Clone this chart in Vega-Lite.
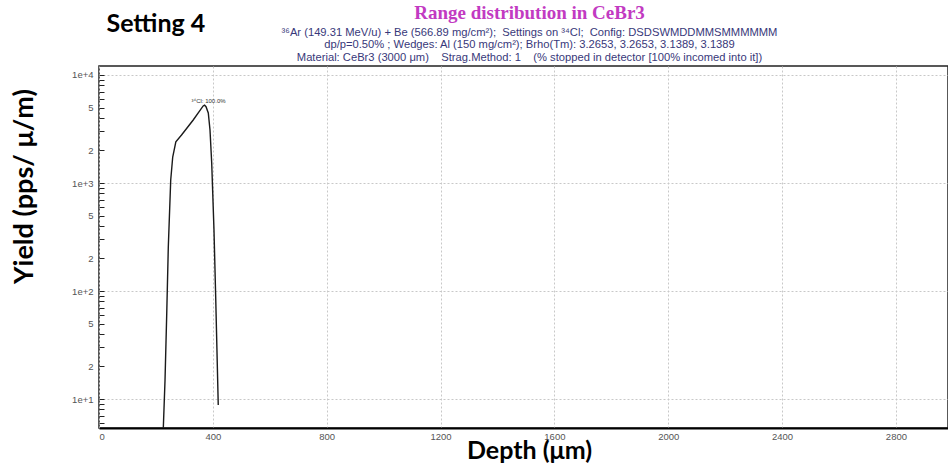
{
  "$schema": "https://vega.github.io/schema/vega-lite/v6.json",
  "autosize": {"type": "none"},
  "width": 849,
  "height": 362,
  "padding": {"left": 99, "top": 66, "right": 0, "bottom": 38},
  "background": "white",
  "title": {
    "text": "Range distribution in CeBr3",
    "subtitle": [
      "³⁶Ar (149.31 MeV/u) + Be (566.89 mg/cm²);\u00a0 Settings on ³⁴Cl;\u00a0 Config: DSDSWMDDMMSMMMMMM",
      "dp/p=0.50% ; Wedges: Al (150 mg/cm²); Brho(Tm): 3.2653, 3.2653, 3.1389, 3.1389",
      "Material: CeBr3 (3000 μm)\u00a0\u00a0\u00a0 Strag.Method: 1\u00a0\u00a0\u00a0 (% stopped in detector [100% incomed into it])"
    ],
    "anchor": "middle",
    "dx": 6,
    "dy": 55,
    "offset": 4,
    "font": "Liberation Serif",
    "fontSize": 19,
    "fontWeight": "bold",
    "color": "#c23ac2",
    "subtitleFont": "Liberation Sans",
    "subtitleFontSize": 11.2,
    "subtitleColor": "#38387a",
    "subtitlePadding": 4,
    "subtitleLineHeight": 12.5
  },
  "config": {
    "view": {"stroke": "#222", "strokeWidth": 1.5},
    "axis": {
      "labelFont": "Liberation Sans",
      "labelFontSize": 9.5,
      "labelColor": "#555",
      "titleFont": "Lato",
      "titleFontWeight": "bold",
      "titleFontSize": 25,
      "titleColor": "#000",
      "domainColor": "#000",
      "domainWidth": 2,
      "gridColor": "#c8c8c8",
      "gridDash": [2, 2],
      "gridWidth": 1
    }
  },
  "layer": [
    {
      "data": {
        "values": [
          {"depth": 222, "yield": 3.5},
          {"depth": 226, "yield": 5.4},
          {"depth": 232, "yield": 15},
          {"depth": 238, "yield": 62},
          {"depth": 243.5, "yield": 255},
          {"depth": 252, "yield": 1066},
          {"depth": 259, "yield": 1740},
          {"depth": 270, "yield": 2410},
          {"depth": 290, "yield": 2780},
          {"depth": 331, "yield": 3830},
          {"depth": 366, "yield": 5170},
          {"depth": 371, "yield": 5270},
          {"depth": 376, "yield": 5090},
          {"depth": 384, "yield": 4450},
          {"depth": 390, "yield": 3100},
          {"depth": 396, "yield": 1530},
          {"depth": 404, "yield": 367},
          {"depth": 410, "yield": 88},
          {"depth": 415.5, "yield": 21.5},
          {"depth": 419, "yield": 8.8}
        ]
      },
      "mark": {"type": "line", "color": "#1a1a1a", "strokeWidth": 1.4, "clip": true},
      "encoding": {
        "x": {
          "field": "depth",
          "type": "quantitative",
          "scale": {"domain": [0, 2983], "nice": false, "zero": false},
          "axis": {
            "title": "Depth (μm)",
            "values": [0, 400, 800, 1200, 1600, 2000, 2400, 2800],
            "format": "d",
            "ticks": false,
            "labelPadding": 3,
            "grid": true,
            "titleBaseline": "middle",
            "titleX": 430,
            "titleY": 22
          }
        },
        "y": {
          "field": "yield",
          "type": "quantitative",
          "scale": {"type": "log", "domain": [5.39, 12115], "nice": false},
          "axis": {
            "title": "Yield (pps/ μ/m)",
            "titleFontSize": 27,
            "values": [6, 7, 8, 9, 10, 20, 30, 40, 50, 60, 70, 80, 90, 100, 200, 300, 400, 500, 600, 700, 800, 900, 1000, 2000, 3000, 4000, 5000, 6000, 7000, 8000, 9000, 10000],
            "labelExpr": "datum.value==10?'1e+1':datum.value==100?'1e+2':datum.value==1000?'1e+3':datum.value==10000?'1e+4':(datum.value==20||datum.value==200||datum.value==2000)?'2':(datum.value==50||datum.value==500||datum.value==5000)?'5':''",
            "labelOverlap": false,
            "offset": -5,
            "domain": false,
            "tickSize": 5,
            "tickColor": "#222",
            "labelPadding": 6,
            "grid": true,
            "gridOpacity": {
              "condition": {"test": "datum.value==10||datum.value==100||datum.value==1000||datum.value==10000", "value": 1},
              "value": 0
            },
            "titleBaseline": "middle",
            "titleX": -80,
            "titleY": 120
          }
        }
      }
    },
    {
      "data": {"values": [{"depth": 371, "yield": 5270, "label": "³⁴Cl: 100.0%"}]},
      "mark": {"type": "text", "font": "Liberation Sans", "fontSize": 6, "color": "#333", "align": "center", "baseline": "bottom", "dx": 4, "dy": -1},
      "encoding": {
        "x": {"field": "depth", "type": "quantitative"},
        "y": {"field": "yield", "type": "quantitative"},
        "text": {"field": "label"}
      }
    },
    {
      "data": {"values": [{"depth": 200, "yield": 29650, "label": "Setting 4"}]},
      "mark": {"type": "text", "font": "Lato", "fontSize": 25, "fontWeight": "bold", "color": "#000", "align": "center", "baseline": "middle"},
      "encoding": {
        "x": {"field": "depth", "type": "quantitative"},
        "y": {"field": "yield", "type": "quantitative"},
        "text": {"field": "label"}
      }
    }
  ]
}
